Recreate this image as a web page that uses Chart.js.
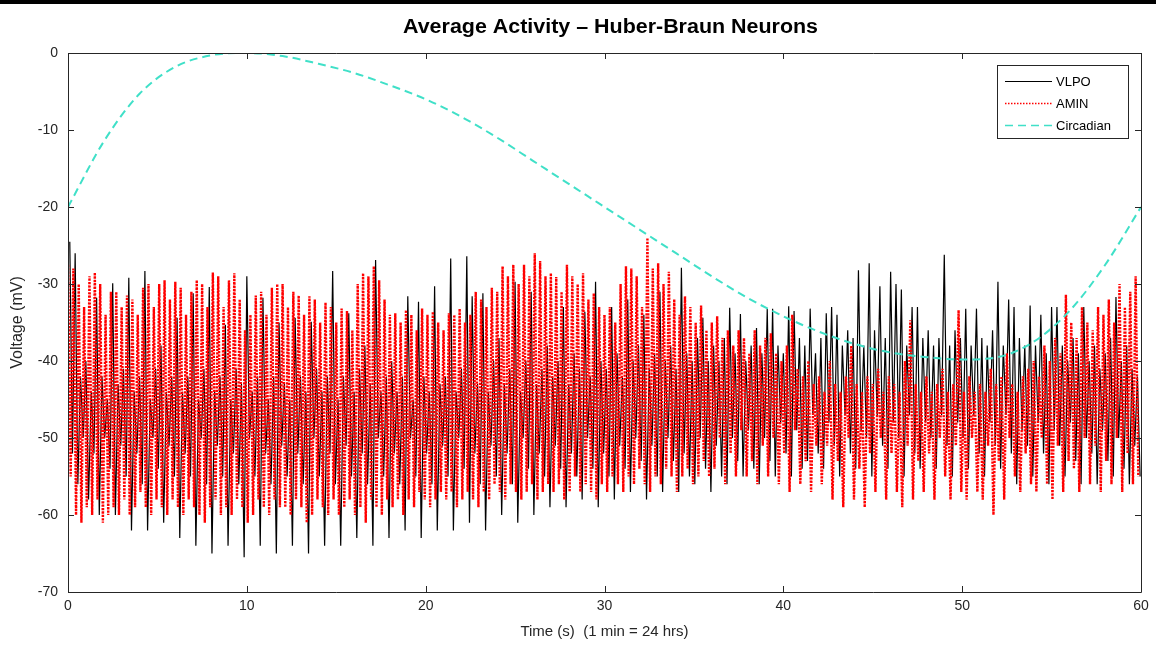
<!DOCTYPE html>
<html>
<head>
<meta charset="utf-8">
<script src="https://cdn.jsdelivr.net/npm/chart.js@4.4.1/dist/chart.umd.min.js"></script>
<style>
html,body{margin:0;padding:0;background:#fff;}
#wrap{position:relative;width:1156px;height:646px;}
canvas{display:block;}
</style>
</head>
<body>
<div id="wrap"><canvas id="c" width="1156" height="646"></canvas></div>
<script>
// ---------- DATA ----------
const chartTitle = "Average Activity \u2013 Huber-Braun Neurons";
const seriesNames = ["VLPO", "AMIN", "Circadian"];
const xTickValues = [0, 10, 20, 30, 40, 50, 60];
const yTickValues = [-70, -60, -50, -40, -30, -20, -10, 0];

// sampling step between successive peaks (s)
const cycleStep = 0.3;

// AMIN (red, dotted): successive peak values, one every 0.3 s starting at t = 0
const aminPeaks = [
-27.5,-28,-30,-33,-29,-28.5,-30,-34,-31,-31,
-33,-31.5,-32,-34,-30.5,-30,-33,-30,-29.5,-32,
-29.7,-30.5,-34,-31,-29.5,-30,-33,-28.5,-29,-33,
-29.5,-28.6,-32,-36,-34,-31.5,-31,-34,-30.5,-30,
-30,-33,-31,-31.5,-34,-31.6,-32,-35,-32.4,-33,
-35,-33.2,-33.5,-36,-30,-28.6,-29,-27.7,-29.5,-32,
-34,-33.8,-35,-33.4,-34,-36,-33.2,-34,-33.6,-35,
-36,-33.8,-34,-33.2,-35,-34,-31,-32,-33,-30.5,
-31,-27.7,-29,-27.5,-30,-27.5,-29,-26,-27,-29,
-28.6,-29.1,-31,-27.5,-29,-30,-28.6,-32,-31.2,-33,
-34,-33,-35,-30,-27.7,-28,-29,-33,-24,-28,
-27.3,-30,-28.4,-32,-34,-31.6,-33,-35,-32.8,-36,
-35,-34.2,-37,-36,-38,-36,-37,-39,-36,-38,
-37,-36.4,-39,-40,-38,-34,-41,-42,-40,-43,
-42,-44,-40,-43,-44,-42,-38,-43,-44,-42,
-43,-41,-44,-42,-43,-44,-40,-34.7,-43,-44,
-42,-44,-43,-41,-44,-43,-33.4,-44,-42,-44,
-43,-44,-41,-43,-42,-39,-43,-44,-42,-41,
-40,-42,-38,-40,-37,-39,-31.4,-35,-37,-33,
-35,-36,-33,-34,-32,-35,-30,-33,-31,-29
];
// AMIN troughs, one every 0.3 s starting at t = 0.15
const aminTroughs = [
-55,-60,-61,-59,-60,-58,-61,-60,-59,-60,
-58,-60,-59,-57,-59,-60,-58,-59,-60,-58,
-59,-60,-58,-59,-60,-61,-59,-58,-60,-59,
-60,-58,-59,-61,-60,-58,-59,-60,-58,-59,
-59,-60,-58,-59,-61,-60,-58,-59,-60,-58,
-60,-59,-58,-60,-59,-61,-58,-59,-60,-58,
-59,-58,-60,-58,-59,-57,-58,-59,-58,-57,
-58,-57,-59,-58,-57,-58,-59,-57,-58,-56,
-57,-58,-56,-57,-58,-57,-56,-58,-57,-56,
-57,-56,-58,-57,-55,-57,-56,-57,-58,-56,
-57,-55,-56,-57,-55,-56,-54,-56,-57,-55,
-56,-54,-55,-57,-55,-54,-56,-55,-53,-55,
-54,-50,-56,-52,-55,-49,-55,-53,-56,-51,
-55,-50,-56,-52,-57,-49,-56,-53,-57,-51,
-56,-51,-58,-53,-59,-50,-58,-54,-59,-52,
-57,-50,-58,-52,-57,-59,-51,-58,-53,-57,
-52,-58,-50,-55,-58,-51,-57,-58,-50,-57,
-58,-51,-60,-53,-58,-50,-55,-57,-52,-56,
-57,-50,-56,-58,-51,-57,-53,-54,-57,-50,
-56,-51,-57,-53,-56,-50,-57,-52,-56,-55
];
// VLPO (black): peaks one every 0.3 s starting at t = 0.1
const vlpoPeaks = [
-24.5,-26,-42,-40,-44,-31.8,-42,-45,-29.9,-43,
-41,-29.2,-44,-42,-28.3,-45,-41,-38,-44,-42,
-34.4,-44,-42,-31.2,-45,-41,-30.4,-44,-42,-35.3,
-45,-41,-43,-29,-44,-42,-31.8,-45,-42,-35,
-43,-45,-34.4,-42,-44,-34.9,-41,-44,-42,-28.3,
-45,-42,-33.8,-44,-41,-38,-43,-26.9,-44,-42,
-40,-44,-42,-31.6,-45,-32.3,-42,-44,-30.3,-43,
-42,-26.7,-44,-41,-26.4,-31.6,-43,-31.2,-44,-40,
-37,-43,-41,-29.7,-44,-40,-31,-43,-41,-38,
-42,-40,-33,-43,-39,-41,-33.6,-42,-29.7,-40,
-41,-33,-39,-42,-32,-40,-38,-34,-41,-39,
-31,-40,-38,-41,-27.9,-39,-40,-37,-34.4,-40,
-38,-40,-37,-33.1,-39,-33.9,-40,-38,-35.7,-39,
-33.2,-33.2,-38,-39,-32.9,-33.5,-37,-38,-33.2,-39,
-37,-33.8,-33,-34,-38,-36,-37,-28.2,-38,-27.3,
-36,-30.3,-37,-28.4,-30,-30.7,-38,-33,-33,-37,
-36,-38,-37,-26.2,-38,-36,-37,-33.2,-38,-33.2,
-37,-38,-36,-29.7,-38,-32,-33,-37,-38,-32.8,
-38,-34,-39,-33,-33,-38,-40,-37,-39,-33,
-40,-38,-41,-39,-37,-31.7,-40,-38,-41,-42
];
// VLPO troughs, one every 0.3 s starting at t = 0.25
const vlpoTroughs = [
-52,-56,-50,-58,-52,-60,-50,-54,-60,-51,
-55,-62,-52,-56,-62,-50,-54,-61,-51,-55,
-63,-52,-55,-64,-50,-56,-65,-51,-55,-64,
-52,-56,-65.5,-50,-55,-64,-52,-56,-65,-51,
-55,-64,-52,-56,-65,-50,-55,-64,-52,-56,
-64,-51,-55,-63,-52,-56,-64,-50,-55,-63,
-52,-56,-62,-50,-55,-63,-52,-56,-62,-51,
-55,-62,-50,-54,-61,-52,-56,-62,-51,-55,
-60,-52,-56,-61,-50,-54,-60,-52,-55,-59,
-51,-54,-59,-52,-55,-58,-50,-54,-59,-52,
-55,-58,-51,-54,-57,-50,-53,-58,-51,-55,
-57,-50,-53,-57,-52,-55,-56,-50,-54,-57,
-51,-55,-56,-50,-53,-55,-49,-54,-56,-50,
-53,-55,-48,-52,-55,-49,-54,-53,-47,-52,
-54,-48,-51,-55,-47,-52,-54,-49,-50,-55,
-47,-51,-54,-48,-50,-55,-47,-52,-54,-48,
-50,-54,-47,-51,-55,-48,-50,-54,-47,-52,
-55,-48,-51,-54,-47,-52,-56,-49,-51,-55,
-48,-52,-56,-49,-51,-55,-48,-53,-56,-50,
-52,-56,-49,-53,-55,-50,-54,-56,-51,-55
];
// Circadian drive (cyan dashed)
const circTimes = [0,2,4,6,8,10,12,14,16,18,20,22,24,26,28,30,32,34,36,38,40,42,44,46,48,50,52,54,56,58,60];
const circValues = [-20,-11.5,-5.3,-1.8,-0.3,0,-0.4,-1.4,-2.6,-4.2,-6,-8.3,-11,-14,-17,-20,-23,-26,-29,-31.8,-34.2,-36.2,-37.8,-38.9,-39.5,-39.8,-39.5,-37.5,-33.5,-27.5,-20];

// ---------- build library datasets ----------
function zig(peaks, troughs, t0, half) {
  const out = [];
  for (let k = 0; k < peaks.length; k++) {
    out.push({x: t0 + k * cycleStep, y: peaks[k]});
    out.push({x: t0 + k * cycleStep + half, y: troughs[k]});
  }
  return out;
}
const vlpoData = zig(vlpoPeaks, vlpoTroughs, 0.1, 0.15);
const aminData = zig(aminPeaks, aminTroughs, 0.0, 0.15);
const circData = circTimes.map((t, i) => ({x: t, y: circValues[i]}));

const AXIS = '#262626';
const CYAN = 'rgb(64,224,200)';

const deco = {
  id: 'deco',
  beforeDraw(chart) {
    const ctx = chart.ctx;
    ctx.save();
    ctx.fillStyle = '#000';
    ctx.fillRect(0, 0, chart.width, 4);
    ctx.restore();
  },
  afterDraw(chart) {
    const ctx = chart.ctx;
    const a = chart.chartArea;
    const xs = chart.scales.x, ys = chart.scales.y;
    ctx.save();
    ctx.strokeStyle = AXIS;
    ctx.lineWidth = 1;
    ctx.setLineDash([]);
    ctx.beginPath();
    ctx.rect(Math.round(a.left) + 0.5, Math.round(a.top) + 0.5, Math.round(a.right - a.left), Math.round(a.bottom - a.top));
    ctx.stroke();
    const tl = 6;
    ctx.beginPath();
    xTickValues.forEach(v => {
      const px = Math.round(xs.getPixelForValue(v)) + 0.5;
      ctx.moveTo(px, a.bottom); ctx.lineTo(px, a.bottom - tl);
      ctx.moveTo(px, a.top); ctx.lineTo(px, a.top + tl);
    });
    yTickValues.forEach(v => {
      const py = Math.round(ys.getPixelForValue(v)) + 0.5;
      ctx.moveTo(a.left, py); ctx.lineTo(a.left + tl, py);
      ctx.moveTo(a.right, py); ctx.lineTo(a.right - tl, py);
    });
    ctx.stroke();

    // legend
    const lx = 997.5, ly = 65.5, lw = 131, lh = 73;
    ctx.fillStyle = '#fff';
    ctx.fillRect(lx, ly, lw, lh);
    ctx.strokeStyle = AXIS;
    ctx.strokeRect(lx, ly, lw, lh);
    const ds = chart.data.datasets;
    const rows = [81, 103, 125];
    ctx.font = '13px "Liberation Sans", Arial, sans-serif';
    ctx.textBaseline = 'middle';
    ctx.textAlign = 'left';
    ds.forEach((d, i) => {
      ctx.save();
      ctx.strokeStyle = d.borderColor;
      ctx.lineWidth = Math.min(d.borderWidth, 1.5);
      ctx.setLineDash(i === 1 ? [1.5, 1.5] : (d.borderDash || []));
      ctx.beginPath();
      ctx.moveTo(1005, rows[i] + 0.5);
      ctx.lineTo(1052, rows[i] + 0.5);
      ctx.stroke();
      ctx.restore();
      ctx.fillStyle = '#000';
      ctx.fillText(d.label, 1056, rows[i] + 1);
    });

    // title
    ctx.fillStyle = '#000';
    ctx.font = 'bold 20px "Liberation Sans Narrow", "Liberation Sans", Arial, sans-serif';
    const w = ctx.measureText(chartTitle).width;
    const target = 415;
    ctx.translate(610.5, 27);
    ctx.scale(target / w, 1);
    ctx.textAlign = 'center';
    ctx.fillText(chartTitle, 0, 0);
    ctx.restore();
  }
};

new Chart(document.getElementById('c'), {
  type: 'line',
  data: {
    datasets: [
      {label: seriesNames[0], data: vlpoData, borderColor: '#000', borderWidth: 1.2, pointRadius: 0, tension: 0, borderJoinStyle: 'bevel', order: 3},
      {label: seriesNames[1], data: aminData, borderColor: 'rgb(255,0,0)', borderWidth: 2.4, borderDash: [2.2, 1.2], pointRadius: 0, tension: 0, borderJoinStyle: 'bevel', order: 2},
      {label: seriesNames[2], data: circData, borderColor: CYAN, borderWidth: 2, borderDash: [8, 5], pointRadius: 0, cubicInterpolationMode: 'monotone', order: 1}
    ]
  },
  options: {
    responsive: false,
    animation: false,
    events: [],
    layout: {padding: {top: 53, right: 15, left: 0, bottom: 0}},
    plugins: {legend: {display: false}, title: {display: false}, tooltip: {enabled: false}},
    scales: {
      x: {
        type: 'linear', min: 0, max: 60,
        afterFit(s) { s.height = 54; },
        afterBuildTicks(s) { s.ticks = xTickValues.map(v => ({value: v})); },
        grid: {display: false, drawTicks: false},
        border: {display: false},
        ticks: {color: AXIS, font: {family: '"Liberation Sans", Arial, sans-serif', size: 14}, padding: 6, maxRotation: 0},
        title: {display: true, text: 'Time (s)  (1 min = 24 hrs)', color: AXIS, font: {family: '"Liberation Sans", Arial, sans-serif', size: 15}, padding: {top: 0, bottom: 5}}
      },
      y: {
        type: 'linear', min: -70, max: 0,
        afterFit(s) { s.width = 68; },
        afterBuildTicks(s) { s.ticks = yTickValues.map(v => ({value: v})); },
        grid: {display: false, drawTicks: false},
        border: {display: false},
        ticks: {color: AXIS, font: {family: '"Liberation Sans", Arial, sans-serif', size: 14}, padding: 10},
        title: {display: true, text: 'Voltage (mV)', color: AXIS, font: {family: '"Liberation Sans", Arial, sans-serif', size: 16}, padding: {top: 8, bottom: 0}}
      }
    }
  },
  plugins: [deco]
});
</script>
</body>
</html>
